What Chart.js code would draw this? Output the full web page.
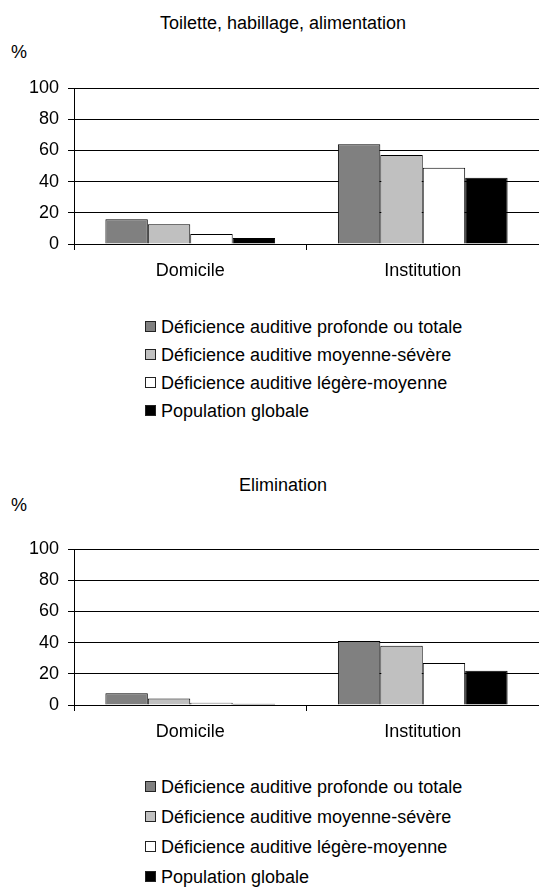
<!DOCTYPE html>
<html lang="fr">
<head>
<meta charset="utf-8">
<title>Toilette, habillage, alimentation / Elimination</title>
<script src="https://cdn.jsdelivr.net/npm/chart.js@4.4.1/dist/chart.umd.min.js"></script>
<style>
    body { margin: 0; background: #fff; font-family: 'Liberation Sans', Arial, sans-serif; color: #000; }
    #page { position: relative; width: 539px; height: 887px; overflow: hidden; }
    .title, .unit { position: absolute; font-size: 18px; line-height: 20px; white-space: nowrap; }
    .title { left: 83px; width: 400px; text-align: center; }
    canvas { position: absolute; left: 0; }
    .legend-item { position: absolute; left: 145px; height: 20px; line-height: 20px; font-size: 18px; white-space: nowrap; }
    .legend-item .box { display: inline-block; width: 9px; height: 9px; border: 1px solid #222; margin-right: 5px; vertical-align: 1px; }
</style>
</head>
<body>
<div id="page">
    <div class="title" style="top:13px">Toilette, habillage, alimentation</div>
    <div class="unit" style="left:11px; top:42px">%</div>
    <canvas id="chartToilette" width="539" height="300" style="top:0"></canvas>
    <div id="legendToilette"></div>

    <div class="title" style="top:475px">Elimination</div>
    <div class="unit" style="left:11px; top:495px">%</div>
    <canvas id="chartElimination" width="539" height="300" style="top:461px"></canvas>
    <div id="legendElimination"></div>
</div>

<script>
// Data
const categories = ['Domicile', 'Institution'];
const seriesNames = [
    'Déficience auditive profonde ou totale',
    'Déficience auditive moyenne-sévère',
    'Déficience auditive légère-moyenne',
    'Population globale'
];
const yTicks = [0, 20, 40, 60, 80, 100];

// Toilette, habillage, alimentation (Domicile, Institution)
const toiletteProfonde = [15.9, 64];
const toiletteMoyenne = [12.6, 57];
const toiletteLegere = [6.4, 48.8];
const toiletteGlobale = [3.8, 42.4];

// Elimination (Domicile, Institution)
const eliminationProfonde = [7.6, 41];
const eliminationMoyenne = [4.1, 38];
const eliminationLegere = [1.5, 27];
const eliminationGlobale = [0.8, 22];

const seriesColors = ['#808080', '#c0c0c0', '#ffffff', '#000000'];

Chart.defaults.font.family = "'Liberation Sans', Arial, sans-serif";
Chart.defaults.font.size = 18;
Chart.defaults.color = '#000';

function makeChart(id, values) {
    const ctx = document.getElementById(id).getContext('2d');
    return new Chart(ctx, {
        type: 'bar',
        data: {
            labels: categories,
            datasets: seriesNames.map((name, i) => ({
                label: name,
                data: values[i],
                backgroundColor: seriesColors[i],
                borderColor: '#000',
                borderWidth: 1,
                barPercentage: 1,
                categoryPercentage: 0.73
            }))
        },
        options: {
            responsive: false,
            animation: false,
            layout: { padding: { top: 88, left: 0, right: 0, bottom: 0 } },
            plugins: {
                legend: { display: false },
                tooltip: { enabled: false }
            },
            scales: {
                x: {
                    grid: { offset: true, drawOnChartArea: false, tickLength: 6, color: '#000' },
                    border: { color: '#000' },
                    ticks: { padding: 10 },
                    afterFit: s => { s.height = 56; }
                },
                y: {
                    min: 0,
                    max: 100,
                    afterBuildTicks: s => { s.ticks = yTicks.map(v => ({ value: v })); },
                    grid: { color: '#000', tickLength: 6 },
                    border: { color: '#000' },
                    ticks: { padding: 9 },
                    afterFit: s => { s.width = 74; }
                }
            }
        }
    });
}

// HTML legend, one row per series
function makeLegend(id, firstRow, rowStep) {
    const holder = document.getElementById(id);
    seriesNames.forEach((name, i) => {
        const item = document.createElement('div');
        item.className = 'legend-item';
        item.style.top = (firstRow + i * rowStep - 10) + 'px';
        const box = document.createElement('span');
        box.className = 'box';
        box.style.background = seriesColors[i];
        item.appendChild(box);
        item.appendChild(document.createTextNode(name));
        holder.appendChild(item);
    });
}

makeChart('chartToilette', [toiletteProfonde, toiletteMoyenne, toiletteLegere, toiletteGlobale]);
makeChart('chartElimination', [eliminationProfonde, eliminationMoyenne, eliminationLegere, eliminationGlobale]);
makeLegend('legendToilette', 327, 28);
makeLegend('legendElimination', 787, 30);
</script>
</body>
</html>
